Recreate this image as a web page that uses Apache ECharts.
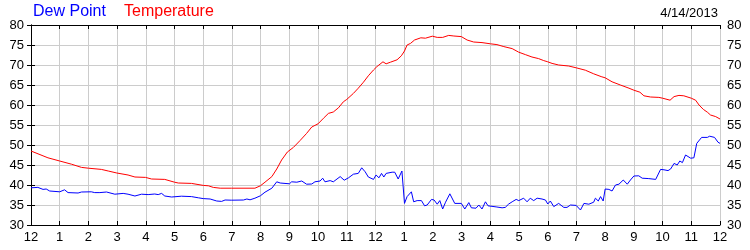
<!DOCTYPE html>
<html>
<head>
<meta charset="utf-8">
<script src="https://cdn.jsdelivr.net/npm/echarts@6/dist/echarts.min.js"></script>
<style>html,body{margin:0;padding:0;background:#fff}#c{width:750px;height:250px}</style>
</head>
<body>
<div id="c"></div>
<script>
// Hours since midnight, 4/14/2013
const tempHours = [0.00,0.59,1.00,1.41,1.76,2.00,2.45,2.69,2.99,3.38,3.62,3.99,4.20,4.66,5.00,5.13,5.59,6.00,
  6.18,6.35,6.59,6.99,7.80,7.99,8.15,8.39,8.56,8.73,8.93,9.14,9.37,9.60,9.78,10.00,10.19,10.36,10.53,10.71,10.88,11.00,11.23,11.40,11.58,11.75,11.93,
  12.05,12.12,12.26,12.37,12.52,12.75,12.90,13.01,13.10,13.22,13.36,13.58,13.74,13.98,14.15,14.34,14.55,14.73,14.99,15.19,15.42,15.71,16.00,16.23,16.47,16.76,16.99,17.22,17.45,17.68,17.86,
  18.00,18.15,18.38,18.73,18.99,19.31,19.60,19.86,20.00,20.24,20.53,20.83,21.00,21.21,21.35,21.58,21.87,22.00,22.26,22.40,22.57,22.74,23.00,23.15,23.27,23.42,23.56,23.67,23.85,24.00];
const tempValues = [48.5,46.8,46.0,45.2,44.4,44.2,43.9,43.5,43.0,42.5,42.0,41.9,41.5,41.4,40.7,40.5,40.4,39.9,
  39.8,39.4,39.2,39.2,39.2,39.8,40.7,42.1,44.0,46.25,48.25,49.4,51.1,52.9,54.5,55.3,56.7,57.9,58.25,59.3,60.8,61.4,62.9,64.2,65.7,67.3,68.75,
  69.6,70.0,70.8,70.3,70.7,71.3,72.3,73.5,75.0,75.4,76.25,76.8,76.7,77.2,76.9,76.9,77.4,77.25,77.1,76.25,75.75,75.6,75.3,75.1,74.6,74.1,73.2,72.6,72.0,71.6,71.1,
  70.8,70.4,70.0,69.75,69.3,68.7,67.8,67.1,66.8,65.8,65.0,64.2,63.7,63.2,62.3,62.0,61.9,61.7,61.2,62.1,62.4,62.3,61.7,61.2,60.0,58.9,58.2,57.5,57.1,56.5];

const dewHours = [0.00,0.24,0.42,0.53,0.65,1.00,1.17,1.29,1.64,1.76,2.10,2.22,2.40,2.63,2.92,3.21,3.38,3.62,3.85,4.08,4.31,4.43,4.55,4.66,4.90,5.24,5.59,5.83,6.00,
  6.24,6.47,6.64,6.76,6.99,7.40,7.52,7.63,7.80,7.99,8.15,8.39,8.56,8.68,9.00,9.08,9.26,9.43,9.60,9.78,9.89,10.07,10.16,10.24,10.42,10.53,10.77,10.91,11.06,11.23,11.40,11.52,11.64,11.75,11.93,
  12.02,12.12,12.21,12.29,12.37,12.58,12.67,12.79,12.85,12.92,13.01,13.10,13.25,13.33,13.45,13.60,13.71,13.80,13.95,14.04,14.15,14.24,14.34,14.44,14.59,14.76,14.99,15.11,15.25,15.34,15.50,15.60,15.71,15.83,15.92,16.23,16.41,16.52,16.64,16.76,16.90,16.99,17.16,17.28,17.39,17.51,17.63,17.80,17.92,
  18.00,18.09,18.21,18.38,18.56,18.67,18.79,18.99,19.14,19.26,19.43,19.60,19.66,19.76,19.84,19.93,20.00,20.13,20.24,20.36,20.48,20.63,20.77,20.88,21.00,21.17,21.29,21.52,21.76,21.93,22.05,22.19,22.28,22.40,22.51,22.60,22.69,22.80,22.98,23.09,23.19,23.36,23.56,23.64,23.81,23.93,24.00];
const dewValues = [39.3,39.4,38.9,39.0,38.5,38.3,38.8,38.1,38.0,38.25,38.3,38.1,38.1,38.25,37.7,37.9,37.7,37.25,37.7,37.6,37.75,37.6,37.9,37.25,37.0,37.2,37.1,36.8,36.6,
  36.5,36.0,35.9,36.25,36.2,36.25,36.5,36.3,36.7,37.3,38.2,39.2,40.8,40.5,40.3,40.8,40.7,41.0,40.2,40.25,40.8,41.0,41.7,40.8,41.1,40.8,42.1,41.2,41.8,42.7,42.9,44.3,43.3,42.0,41.4,
  42.5,41.8,42.9,42.0,42.9,43.2,43.2,41.5,41.2,43.5,35.4,37.1,38.3,35.8,36.1,36.1,34.8,35.0,36.4,36.25,35.2,36.1,34.0,35.7,37.8,35.4,35.4,34.0,35.6,34.3,34.2,35.0,34.0,35.8,34.8,34.5,34.3,34.4,35.25,35.8,36.4,36.1,36.7,35.8,36.7,36.1,36.7,36.5,36.25,
  35.25,36.0,34.6,35.4,34.4,34.4,35.0,34.9,33.75,35.4,35.2,35.7,36.7,36.0,37.1,36.0,39.0,38.9,38.5,40.0,40.2,41.25,40.2,41.25,42.25,42.3,41.7,41.6,41.4,43.9,43.8,43.6,44.0,45.4,45.0,46.0,45.6,47.5,46.7,46.8,50.4,51.9,51.9,52.2,51.9,50.7,50.4];

const hourLabels = ['12','1','2','3','4','5','6','7','8','9','10','11','12','1','2','3','4','5','6','7','8','9','10','11','12'];
const yTicks = [30,35,40,45,50,55,60,65,70,75,80];
const dateLabel = '4/14/2013';

const FONT = '"Liberation Sans", Arial, sans-serif';
const zip = (xs, ys) => xs.map((x, i) => [x, ys[i]]);

const axisLine = {show: true, lineStyle: {color: '#000', width: 1}};
const tick = {show: true, inside: true, length: 4, lineStyle: {color: '#000'}};

const chart = echarts.init(document.getElementById('c'), null, {renderer: 'canvas'});
chart.setOption({
  animation: false,
  backgroundColor: '#fff',
  title: [
    {text: 'Dew Point', left: 33, top: 4, padding: 0, textStyle: {color: '#0000ff', fontFamily: FONT, fontSize: 16, fontWeight: 'normal'}},
    {text: 'Temperature', left: 124, top: 4, padding: 0, textStyle: {color: '#ff0000', fontFamily: FONT, fontSize: 16, fontWeight: 'normal'}},
    {text: dateLabel, right: 32, top: 7, padding: 0, textStyle: {color: '#000', fontFamily: FONT, fontSize: 13, fontWeight: 'normal'}}
  ],
  grid: {left: 31, right: 30, top: 25, bottom: 25, containLabel: false},
  xAxis: [
    {type: 'value', position: 'bottom', min: 0, max: 24, interval: 1,
     axisLine: axisLine, axisTick: tick,
     axisLabel: {color: '#000', fontFamily: FONT, fontSize: 13, margin: 6, formatter: v => hourLabels[Math.round(v)]},
     splitLine: {show: true, lineStyle: {color: '#cccccc', width: 1}}},
    {type: 'value', position: 'top', min: 0, max: 24, interval: 1,
     axisLine: axisLine, axisTick: tick, axisLabel: {show: false}, splitLine: {show: false}}
  ],
  yAxis: [
    {type: 'value', position: 'left', min: yTicks[0], max: yTicks[yTicks.length - 1], interval: 5,
     axisLine: axisLine, axisTick: tick,
     axisLabel: {color: '#000', fontFamily: FONT, fontSize: 13, margin: 7},
     splitLine: {show: true, lineStyle: {color: '#cccccc', width: 1}}},
    {type: 'value', position: 'right', min: yTicks[0], max: yTicks[yTicks.length - 1], interval: 5,
     axisLine: axisLine, axisTick: tick,
     axisLabel: {color: '#000', fontFamily: FONT, fontSize: 13, margin: 7},
     splitLine: {show: false}}
  ],
  series: [
    {name: 'Dew Point', type: 'line', data: zip(dewHours, dewValues), showSymbol: false, symbol: 'none',
     lineStyle: {color: '#0000ff', width: 1}, z: 3},
    {name: 'Temperature', type: 'line', data: zip(tempHours, tempValues), showSymbol: false, symbol: 'none',
     lineStyle: {color: '#ff0000', width: 1}, z: 4}
  ]
});
</script>
</body>
</html>
